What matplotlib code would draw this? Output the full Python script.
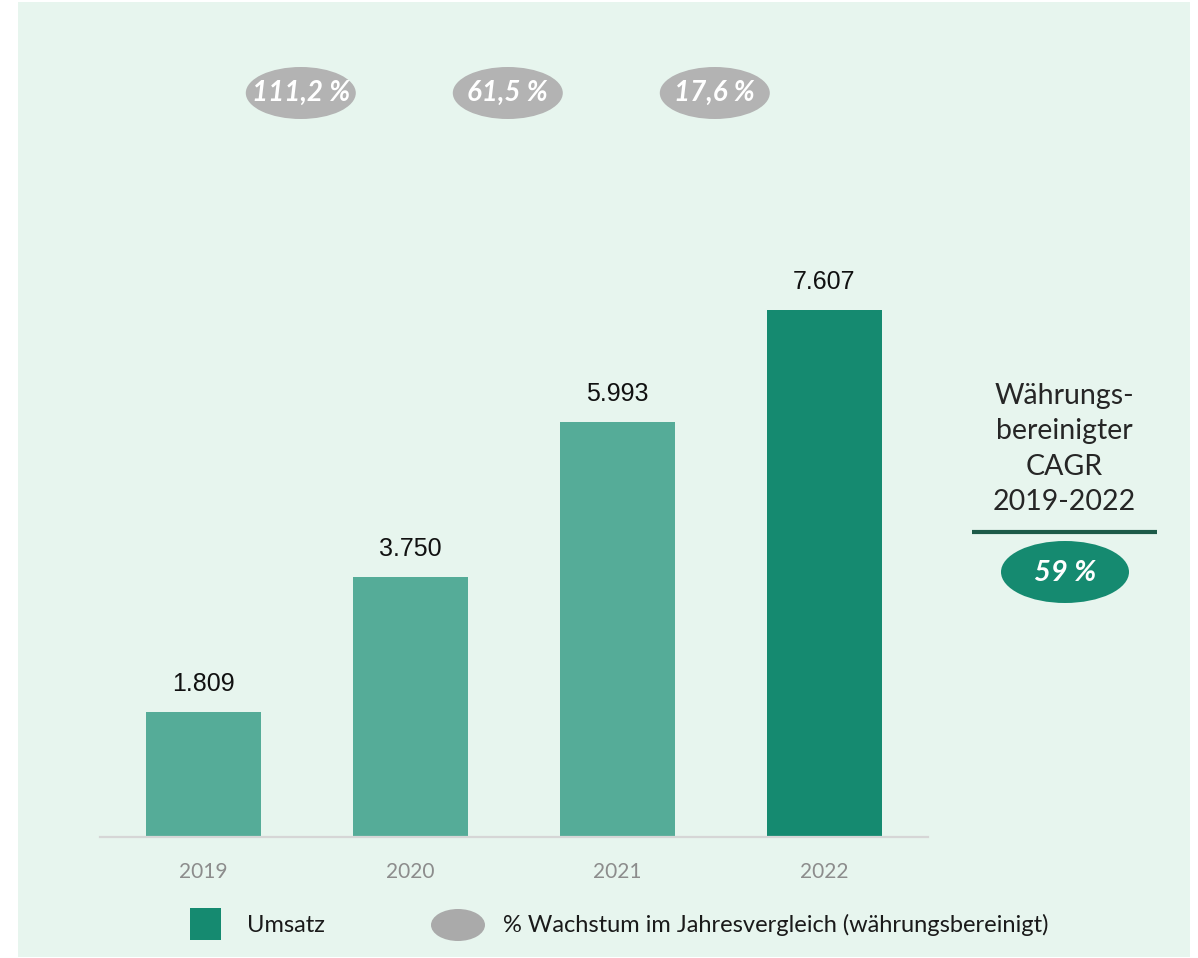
import matplotlib
matplotlib.use('Agg')
import matplotlib.pyplot as plt
from matplotlib.patches import Rectangle, Ellipse
from matplotlib import transforms

# data
years = ['2019', '2020', '2021', '2022']
umsatz = [1809, 3750, 5993, 7607]
umsatz_labels = ['1.809', '3.750', '5.993', '7.607']
growth = ['111,2 %', '61,5 %', '17,6 %']
cagr_text = 'Währungs-\nbereinigter\nCAGR\n2019-2022'
cagr_value = '59 %'
legend_labels = ['Umsatz', '% Wachstum im Jahresvergleich (währungsbereinigt)']

W, H = 1198, 958
bg_col = '#e7f5ee'
light_green = '#55ac98'
dark_green = '#158a70'
grey_oval = '#b3b3b3'
txt_font = ['Lato', 'DejaVu Sans']
num_font = ['Liberation Sans', 'DejaVu Sans']

fig = plt.figure(figsize=(W / 100, H / 100), dpi=100)
fig.patch.set_facecolor('white')

# overlay in pixel coordinates for the decorations
bg = fig.add_axes([0, 0, 1, 1], zorder=0)
bg.set_xlim(0, W)
bg.set_ylim(H, 0)
bg.axis('off')
bg.add_patch(Rectangle((18, 2), 1172, 955, color=bg_col, lw=0))

# bar axes: baseline at y=837px, top at y=100px
base_px, top_px = 837, 100
ax = fig.add_axes([100 / W, (H - base_px) / H, 828 / W, (base_px - top_px) / H], zorder=1)
ax.patch.set_alpha(0)
ymax = 7607 * (base_px - top_px) / (base_px - 310)
ax.set_ylim(0, ymax)
ax.set_xlim(-0.5, 3.5)

colors = [light_green] * 3 + [dark_green]
x = list(range(len(years)))
ax.bar(x, umsatz, width=0.56, color=colors)

for i, v in enumerate(umsatz):
    ax.annotate(umsatz_labels[i], (i, v), xytext=(0, 20), textcoords='offset points',
                ha='center', va='center', fontsize=18, color='#111111', family=num_font)

for s in ['top', 'right', 'left']:
    ax.spines[s].set_visible(False)
ax.spines['bottom'].set_color('#d6d6d6')
ax.spines['bottom'].set_linewidth(1.6)
ax.set_yticks([])
ax.set_xticks(x)
ax.set_xticklabels(years, fontsize=15, color='#8c8c8c', family=txt_font)
ax.tick_params(axis='x', length=0, pad=18)

# growth ovals between the bars
tr = transforms.blended_transform_factory(ax.transData, bg.transData)
for i, g in enumerate(growth):
    xc = i + 0.47
    bg.add_patch(Ellipse((xc, 93), 110 / 207, 52, transform=tr, color=grey_oval, lw=0))
    bg.text(xc, 93, g, transform=tr, ha='center', va='center', color='white',
            fontsize=20, fontweight='bold', fontstyle='italic', family=txt_font)

# CAGR block
bg.text(1064, 449, cagr_text, ha='center', va='center', multialignment='center',
        fontsize=20.5, color='#262626', family=txt_font, linespacing=1.45)
bg.plot([972, 1157], [532, 532], color='#1d5a48', lw=3, solid_capstyle='butt')
bg.add_patch(Ellipse((1065, 572), 128, 62, color=dark_green, lw=0))
bg.text(1065, 573, cagr_value, ha='center', va='center', color='white',
        fontsize=21, fontweight='bold', fontstyle='italic', family=txt_font)

# legend
bg.add_patch(Rectangle((190, 908), 31, 32, color=dark_green, lw=0))
bg.text(247, 925, legend_labels[0], ha='left', va='center', fontsize=17,
        color='#1a1a1a', family=txt_font)
bg.add_patch(Ellipse((458, 925), 54, 32, color='#aaaaaa', lw=0))
bg.text(503, 925, legend_labels[1], ha='left', va='center', fontsize=17,
        color='#1a1a1a', family=txt_font)

fig.savefig('out.png', dpi=100, facecolor='white')
